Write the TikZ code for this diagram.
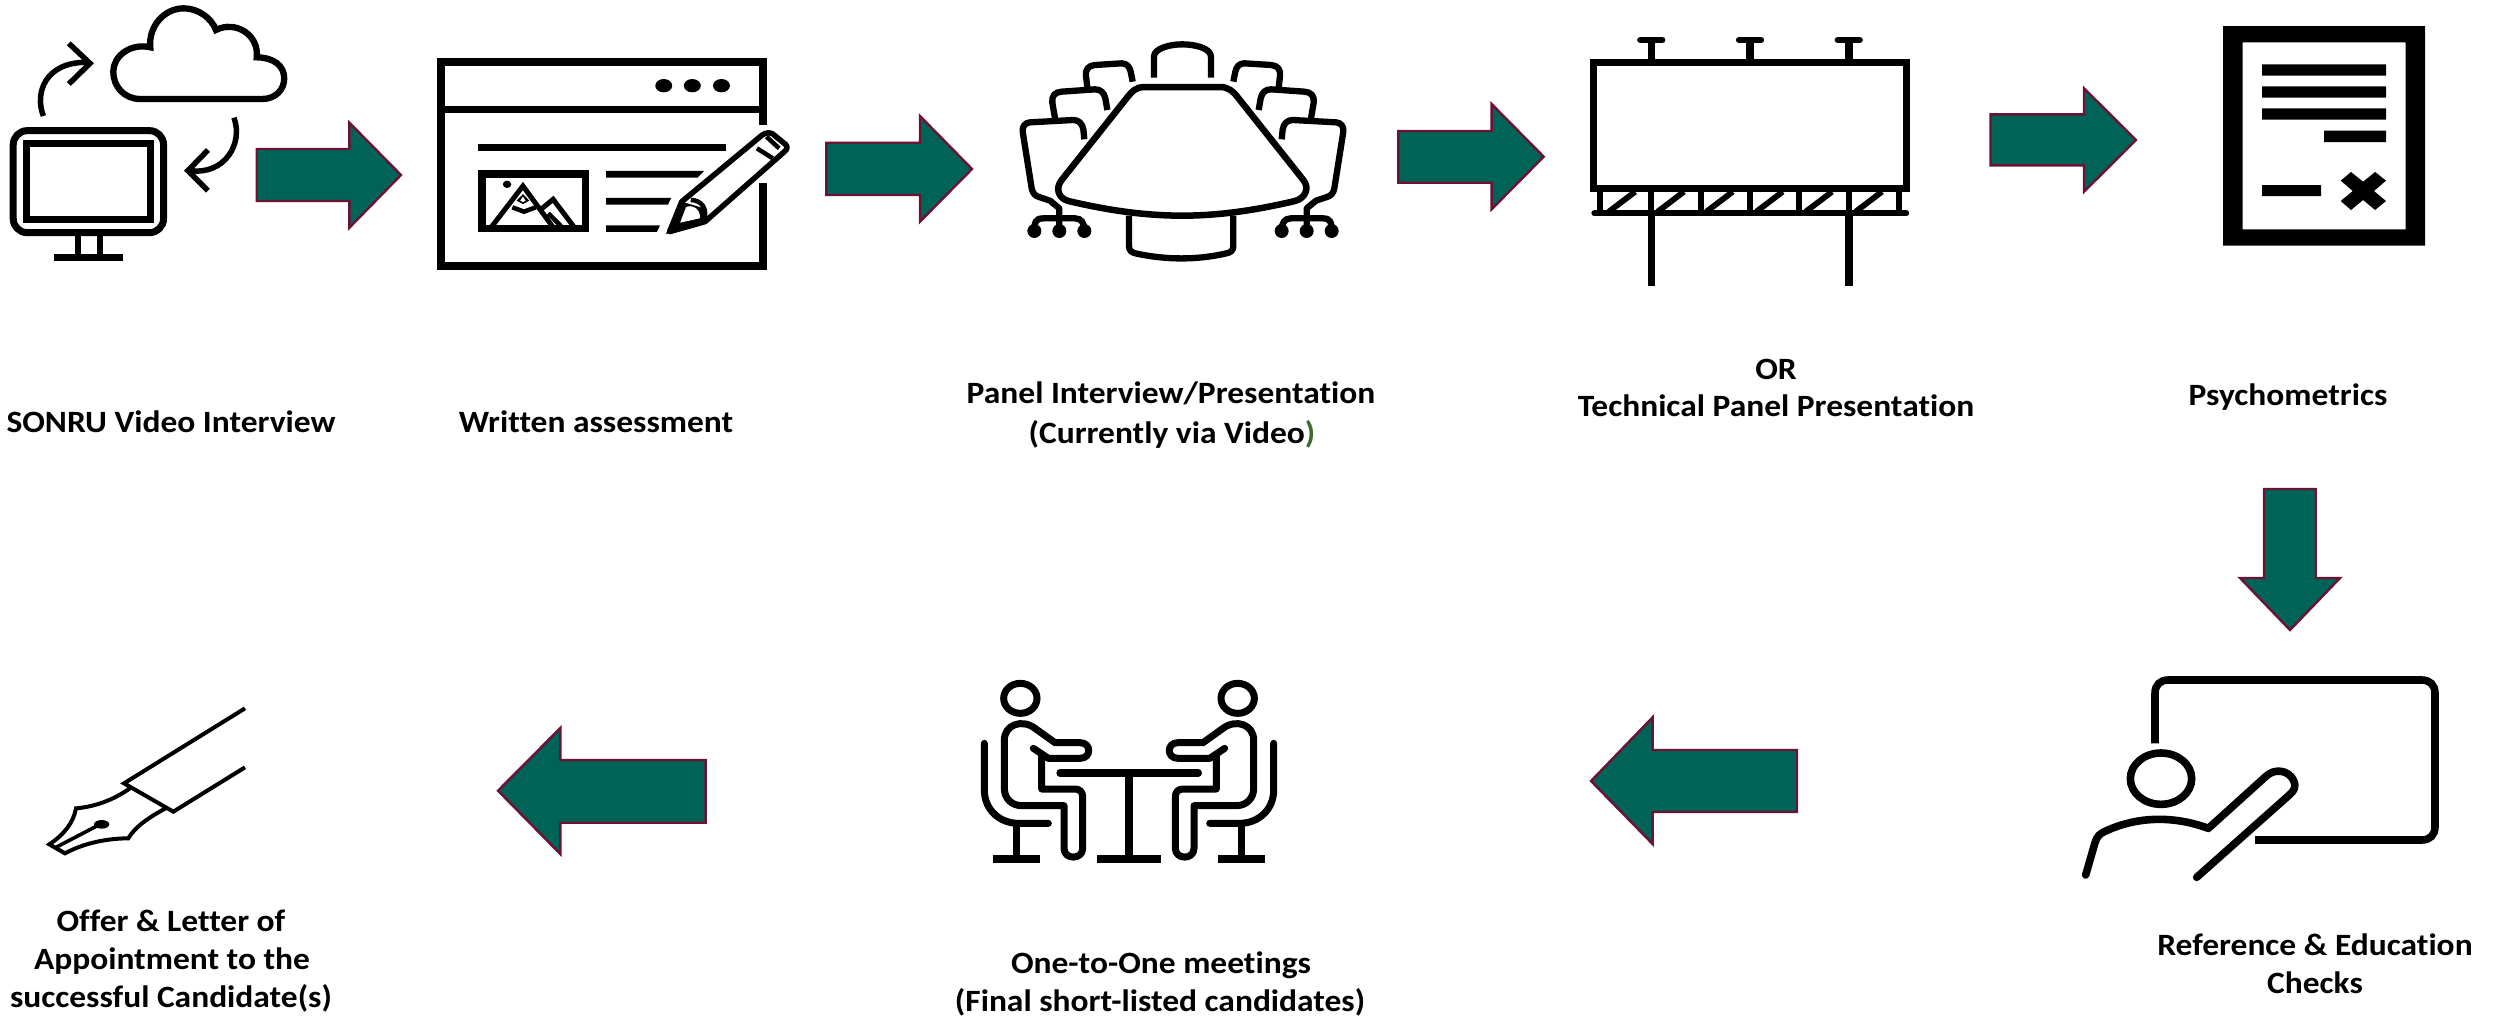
\documentclass[tikz,border=0pt]{standalone}
\usepackage{fontspec}
\setmainfont[FakeStretch=1.08,Ligatures=NoCommon]{Carlito}
\definecolor{teal1}{HTML}{006358}
\definecolor{wine}{HTML}{6B1235}
\definecolor{paren}{HTML}{3F6B2F}
\tikzset{
  blockarrow/.style={draw=wine,fill=teal1,line width=2.4pt,miter limit=10,line join=miter},
  lab/.style={font=\fontsize{31}{38}\selectfont\bfseries,inner sep=0pt,outer sep=0pt,anchor=base,align=center,text=black},
  ic/.style={draw=black,line width=#1,fill=none},
  ic/.default=7pt,
  z1/.style={shift={(0,0)},x=0.5293pt,y=-0.33333pt},
  z3/.style={shift={(1560,10)},x=0.5740pt,y=-0.33333pt},
  zt/.style={x=0.33333pt,y=-0.33333pt}
}
\newcommand{\halfchairs}{%
  \draw[ic=6.3pt,line join=round] (458,215) -- (452,185) .. controls (449,170) and (440,160) .. (425,160) -- (345,165) .. controls (325,166) and (315,180) .. (318,198) -- (322,232);
  \draw[ic=6.3pt,line join=round] (382,300) -- (376,265) .. controls (372,248) and (362,238) .. (345,238) -- (245,245) .. controls (225,246) and (214,258) .. (217,278) -- (225,325);
  \draw[ic=6.3pt,line join=round] (313,388) -- (310,358) .. controls (307,340) and (295,330) .. (280,330) -- (150,337) .. controls (135,338) and (126,350) .. (128,365) -- (155,535) .. controls (158,550) and (165,558) .. (180,562) -- (210,572) -- (238,595) -- (238,665);
  \draw[ic=6.3pt] (163,660) .. controls (163,640) and (165,625) .. (190,625) -- (285,625) .. controls (305,625) and (313,640) .. (313,660);
  \fill (163,663) circle (21) (238,663) circle (21) (313,663) circle (21);
}
\newcommand{\halfperson}{%
  \draw[ic=7pt] (211,115) ellipse (50 and 45);
  \draw[ic=7pt,line cap=round,line join=round] (250,265) -- (295,295) -- (390,295) .. controls (425,295) and (425,248) .. (390,248) -- (315,248) -- (255,205) .. controls (215,175) and (163,195) .. (163,240) -- (163,385) .. controls (163,415) and (185,437) .. (215,437) -- (342,437) -- (342,565) .. controls (342,600) and (398,600) .. (398,565) -- (398,410) .. controls (398,395) and (388,387) .. (375,387) -- (275,387) -- (275,285);
  \draw[ic=7pt,line cap=round] (103,250) -- (103,390) .. controls (103,450) and (150,490) .. (205,490) -- (295,490);
  \draw[ic=7pt] (200,490) -- (200,590);
  \draw[ic=7.3pt] (128,597) -- (271,597);
}
\begin{document}
\begin{tikzpicture}[x=1pt,y=-1pt]
\useasboundingbox (0,0) rectangle (2496,1017);
\fill[white] (0,0) rectangle (2496,1017);

% ---------- block arrows
\draw[blockarrow] (256.7,149) -- (349.4,149) -- (349.4,122.7) -- (401,175) -- (349.4,227.7) -- (349.4,201) -- (256.7,201) -- cycle;
\draw[blockarrow] (826.3,142.7) -- (920,142.7) -- (920,116) -- (972,169) -- (920,221.7) -- (920,195) -- (826.3,195) -- cycle;
\draw[blockarrow] (1398.3,131) -- (1491.6,131) -- (1491.6,104) -- (1543.7,156.7) -- (1491.6,209.3) -- (1491.6,182.7) -- (1398.3,182.7) -- cycle;
\draw[blockarrow] (1990.5,114.3) -- (2084,114.3) -- (2084,88.3) -- (2136,140) -- (2084,191.7) -- (2084,165.3) -- (1990.5,165.3) -- cycle;
\draw[blockarrow] (2264,489) -- (2315.7,489) -- (2315.7,578) -- (2340,578) -- (2290,630) -- (2240,578) -- (2264,578) -- cycle;
\draw[blockarrow] (1797,750) -- (1652.6,750) -- (1652.6,717.3) -- (1591,781) -- (1652.6,844) -- (1652.6,812) -- (1797,812) -- cycle;
\draw[blockarrow] (705.6,760) -- (560.3,760) -- (560.3,728) -- (498,790.7) -- (560.3,854) -- (560.3,822.7) -- (705.6,822.7) -- cycle;

% ---------- monitor + cloud
\begin{scope}[z1]
  \draw[ic=7pt,rounded corners=14pt] (25,392) rectangle (309,698);
  \draw[ic=7pt] (50,431) rectangle (285,660);
  \draw[ic=6pt] (148,700) -- (148,768) (188,700) -- (188,768);
  \fill (102,763) rectangle (232,783);
  \draw[ic=6.3pt,line join=miter] (265,297) .. controls (235,297) and (214,260) .. (214,215) .. controls (214,170) and (245,128) .. (284,142) .. controls (280,80) and (310,25) .. (347,25) .. controls (375,25) and (400,55) .. (408,90) .. controls (445,60) and (490,105) .. (485,172) .. controls (515,172) and (537,195) .. (537,235) .. controls (537,270) and (520,297) .. (495,297) -- cycle;
  \draw[ic=5.5pt] (82,348) .. controls (65,280) and (85,185) .. (165,187);
  \draw[ic=5.5pt] (130,130) -- (170,190) -- (130,252);
  \draw[ic=5.5pt] (442,353) .. controls (460,430) and (425,525) .. (360,512);
  \draw[ic=5.5pt] (393,450) -- (355,512) -- (393,572);
  % window
  \draw[ic=8pt] (1442,375) -- (1442,187) -- (833,187) -- (833,798) -- (1442,798) -- (1442,548);
  \draw[ic=6.8pt] (833,328) -- (1442,328);
  \fill (1254,257) ellipse (16 and 20) (1308,257) ellipse (16 and 20) (1363,257) ellipse (16 and 20);
  \fill (903,431) rectangle (1372,452);
  \draw[ic=7.5pt] (911,522) rectangle (1106,686);
  \fill (1145,513) -- (1330,513) -- (1318,533) -- (1145,533) -- cycle;
  \fill (1145,594) -- (1268,594) -- (1262,614) -- (1145,614) -- cycle;
  \fill (1145,676) -- (1247,676) -- (1241,696) -- (1145,696) -- cycle;
  % picture in window
  \draw[ic=5pt,line join=miter] (928,682) -- (988,558) -- (1045,682);
  \draw[ic=5pt,line join=miter] (1022,628) -- (1045,598) -- (1085,682);
  \draw[ic=4.5pt,line join=miter] (1036,640) -- (1062,682);
  \draw[ic=4.5pt,line join=miter] (968,622) -- (990,635) -- (1012,622);
  \fill (988,582) -- (1000,602) -- (988,612) -- (976,602) -- cycle;
  \fill[white] (988,590) -- (993,602) -- (988,606) -- (983,602) -- cycle;
  \fill (958,553) ellipse (8 and 11);
  % pencil
  \draw[ic=5.5pt,line join=round,fill=white] (1288,605) -- (1440,405) .. controls (1447,397) and (1455,397) .. (1460,402) -- (1484,433) .. controls (1489,440) and (1487,448) .. (1482,455) -- (1332,665) -- (1265,695) -- cycle;
  \draw[ic=4.5pt] (1430,445) -- (1460,475);
  \draw[ic=4.5pt] (1448,410) -- (1472,445);
  \draw[ic=4.5pt] (1305,600) .. controls (1325,600) and (1338,625) .. (1330,665);
  \fill (1288,605) -- (1330,625) -- (1332,665) -- (1258,702) -- cycle;
  \fill[white] (1296,622) .. controls (1305,612) and (1325,625) .. (1322,655) -- (1285,668) -- cycle;
\end{scope}

% ---------- conference table
\begin{scope}[shift={(980,10)},zt]
  \halfchairs
\end{scope}
\begin{scope}[shift={(1386,10)},x=-0.33333pt,y=-0.33333pt]
  \halfchairs
\end{scope}
\begin{scope}[shift={(980,10)},zt]
  \draw[ic=6.3pt,line join=round] (522,203) -- (522,140) .. controls (522,115) and (570,103) .. (607,103) .. controls (645,103) and (693,115) .. (693,140) -- (693,203);
  \draw[ic=6.5pt,fill=white] (490,231) -- (720,231) .. controls (745,231) and (760,245) .. (770,258) -- (970,510) .. controls (990,535) and (975,565) .. (945,573) .. controls (830,600) and (720,617) .. (607,617) .. controls (490,617) and (380,600) .. (265,573) .. controls (235,565) and (225,535) .. (245,510) -- (445,258) .. controls (455,245) and (470,231) .. (490,231) -- cycle;
  \draw[ic=6.3pt] (447,617) -- (447,708) .. controls (447,722) and (455,728) .. (470,731) .. controls (560,750) and (650,750) .. (735,731) .. controls (752,728) and (760,722) .. (760,708) -- (760,617);
\end{scope}

% ---------- billboard + document
\begin{scope}[z3]
  \draw[ic=7.5pt] (159,90) -- (159,150) (331,90) -- (331,150) (503,90) -- (503,150);
  \draw[ic=6.5pt,line cap=round] (140,90) -- (178,90) (312,90) -- (350,90) (484,90) -- (522,90);
  \draw[ic=7.5pt] (58,157) rectangle (604,535);
  \foreach \vx in {70,159,245,331,417,503,590} \draw[ic=6pt] (\vx,540) -- (\vx,610);
  \foreach \vx in {85,170,255,342,428,515} \draw[ic=5.8pt] (\vx,605) -- ({\vx+46},545);
  \draw[ic=6.2pt,line cap=round] (60,610) -- (603,610);
  \draw[ic=7.5pt] (159,610) -- (159,828) (503,610) -- (503,828);
  \fill[even odd rule] (1155,48) rectangle (1507,707) (1189,97) rectangle (1473,658);
  \fill (1223,163) rectangle (1439,197) (1223,229) rectangle (1439,263) (1223,295) rectangle (1439,329) (1331,362) rectangle (1439,396) (1223,525) rectangle (1326,558);
  \fill (1378,486) -- (1399,515) -- (1420,486) -- (1439,512) -- (1418,543) -- (1439,573) -- (1420,600) -- (1399,570) -- (1378,600) -- (1360,573) -- (1381,543) -- (1360,512) -- cycle;
\end{scope}

% ---------- presenter
\begin{scope}[shift={(2040,660)},zt]
  \draw[ic=7.6pt] (345,250) -- (345,100) .. controls (345,75) and (360,60) .. (385,60) -- (1145,60) .. controls (1170,60) and (1185,75) .. (1185,100) -- (1185,500) .. controls (1185,525) and (1170,540) .. (1145,540) -- (645,540);
  \draw[ic=7.6pt] (363,356) ellipse (92 and 77);
  \draw[ic=7.6pt,line cap=round,line join=round] (137,645) -- (165,548) .. controls (170,530) and (180,520) .. (195,514) .. controls (300,465) and (410,470) .. (505,505) -- (680,347) .. controls (705,325) and (745,330) .. (760,360) .. controls (770,380) and (762,392) .. (750,403) -- (470,652);
\end{scope}

% ---------- one-to-one meeting
\begin{scope}[shift={(950,660)},zt]
  \halfperson
  \draw[ic=7.3pt] (537,339) -- (537,597);
  \draw[ic=7.3pt] (441,597) -- (633,597);
  \draw[ic=7.3pt,line cap=round] (330,339) -- (745,339);
\end{scope}
\begin{scope}[shift={(1308,660)},x=-0.33333pt,y=-0.33333pt]
  \halfperson
\end{scope}

% ---------- fountain pen
\begin{scope}[shift={(20,690)},zt]
  \draw[ic=4pt,line join=miter] (675,55) -- (312,280) -- (460,365) -- (675,232);
  \draw[ic=4pt,line join=miter] (330,295) .. controls (280,330) and (225,350) .. (168,355) .. controls (160,400) and (130,435) .. (88,463) -- (135,490) .. controls (190,460) and (260,445) .. (325,445) .. controls (345,410) and (390,380) .. (437,355);
  \draw[ic=3.6pt] (108,472) -- (240,403);
  \fill (245,403) ellipse (23 and 13);
\end{scope}

% ---------- labels
\node[lab] (t1) at (171,432) {SONRU Video Interview};
\node[lab] (t2) at (596,432) {Written assessment};
\node[lab] (t3) at (1171,403) {Panel Interview/Presentation};
\node[lab] (t3b) at (1172,443) {(Currently via Video\textcolor{paren}{)}};
\node[lab] (t4) at (1776,379) {OR};
\node[lab] (t4b) at (1776,416) {Technical Panel Presentation};
\node[lab] (t5) at (2288,405) {Psychometrics};
\node[lab] (t6) at (2315,955) {Reference \& Education};
\node[lab] (t6b) at (2315,993) {Checks};
\node[lab] (t7) at (1161,973) {One-to-One meetings};
\node[lab] (t7b) at (1160,1011) {(Final short-listed candidates)};
\node[lab] (t8) at (171,931) {Offer \& Letter of};
\node[lab] (t8b) at (172,969) {Appointment to the};
\node[lab] (t8c) at (171,1007) {successful Candidate(s)};
\end{tikzpicture}
\end{document}
